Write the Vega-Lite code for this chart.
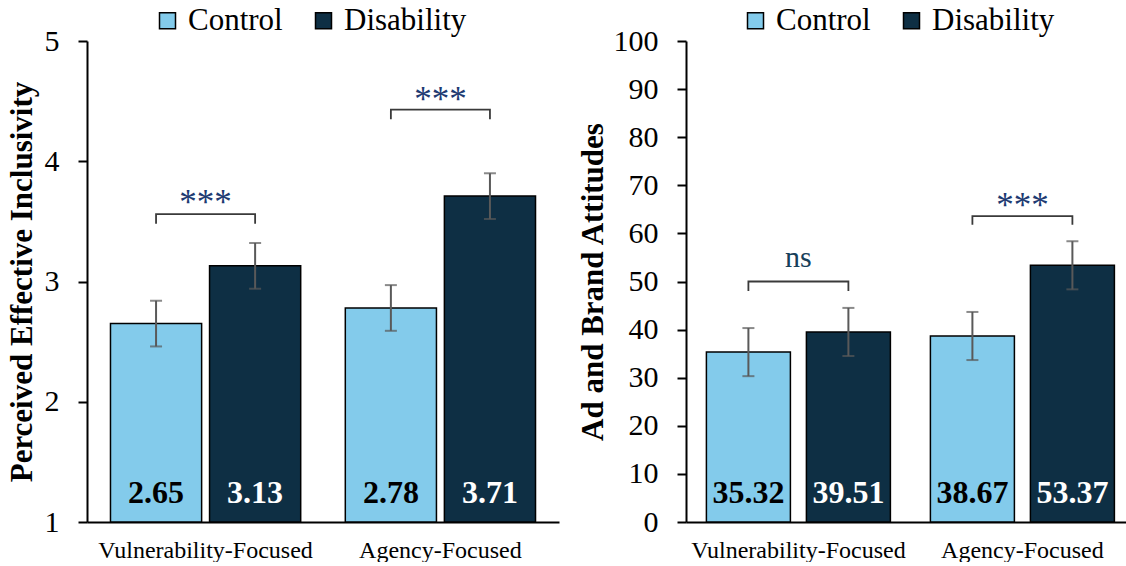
{
  "$schema": "https://vega.github.io/schema/vega-lite/v6.json",
  "background": "white",
  "padding": {"left": 6, "top": 5, "right": 0, "bottom": 0},
  "spacing": 18,
  "config": {
    "font": "Liberation Serif",
    "view": {"stroke": null},
    "axis": {
      "labelFont": "Liberation Serif",
      "titleFont": "Liberation Serif",
      "labelColor": "black",
      "titleColor": "black",
      "domainColor": "black",
      "tickColor": "black",
      "domainWidth": 2,
      "tickWidth": 2,
      "grid": false
    },
    "legend": {"labelFont": "Liberation Serif"}
  },
  "datasets": {
    "inclusivity": [
      {"ad_type": "Vulnerability-Focused", "condition": "Control", "mean": 2.65, "lo": 2.46, "hi": 2.84},
      {"ad_type": "Vulnerability-Focused", "condition": "Disability", "mean": 3.13, "lo": 2.94, "hi": 3.32},
      {"ad_type": "Agency-Focused", "condition": "Control", "mean": 2.78, "lo": 2.59, "hi": 2.97},
      {"ad_type": "Agency-Focused", "condition": "Disability", "mean": 3.71, "lo": 3.52, "hi": 3.90}
    ],
    "inclusivity_brackets": [
      {"ad_type": "Vulnerability-Focused", "condition": "Control", "y": 3.48, "step": 1},
      {"ad_type": "Vulnerability-Focused", "condition": "Control", "y": 3.56, "step": 2},
      {"ad_type": "Vulnerability-Focused", "condition": "Disability", "y": 3.56, "step": 3},
      {"ad_type": "Vulnerability-Focused", "condition": "Disability", "y": 3.48, "step": 4},
      {"ad_type": "Agency-Focused", "condition": "Control", "y": 4.35, "step": 1},
      {"ad_type": "Agency-Focused", "condition": "Control", "y": 4.43, "step": 2},
      {"ad_type": "Agency-Focused", "condition": "Disability", "y": 4.43, "step": 3},
      {"ad_type": "Agency-Focused", "condition": "Disability", "y": 4.35, "step": 4}
    ],
    "inclusivity_sig": [
      {"ad_type": "Vulnerability-Focused", "label": "***", "y": 3.70},
      {"ad_type": "Agency-Focused", "label": "***", "y": 4.56}
    ],
    "attitudes": [
      {"ad_type": "Vulnerability-Focused", "condition": "Control", "mean": 35.32, "lo": 30.32, "hi": 40.32},
      {"ad_type": "Vulnerability-Focused", "condition": "Disability", "mean": 39.51, "lo": 34.51, "hi": 44.51},
      {"ad_type": "Agency-Focused", "condition": "Control", "mean": 38.67, "lo": 33.67, "hi": 43.67},
      {"ad_type": "Agency-Focused", "condition": "Disability", "mean": 53.37, "lo": 48.37, "hi": 58.37}
    ],
    "attitudes_brackets": [
      {"ad_type": "Vulnerability-Focused", "condition": "Control", "y": 48.0, "step": 1},
      {"ad_type": "Vulnerability-Focused", "condition": "Control", "y": 50.0, "step": 2},
      {"ad_type": "Vulnerability-Focused", "condition": "Disability", "y": 50.0, "step": 3},
      {"ad_type": "Vulnerability-Focused", "condition": "Disability", "y": 48.0, "step": 4},
      {"ad_type": "Agency-Focused", "condition": "Control", "y": 61.8, "step": 1},
      {"ad_type": "Agency-Focused", "condition": "Control", "y": 63.6, "step": 2},
      {"ad_type": "Agency-Focused", "condition": "Disability", "y": 63.6, "step": 3},
      {"ad_type": "Agency-Focused", "condition": "Disability", "y": 61.8, "step": 4}
    ],
    "attitudes_ns": [
      {"ad_type": "Vulnerability-Focused", "label": "ns", "y": 54.8}
    ],
    "attitudes_sig": [
      {"ad_type": "Agency-Focused", "label": "***", "y": 67.0}
    ]
  },
  "resolve": {
    "scale": {"x": "independent", "y": "independent", "color": "independent", "xOffset": "independent"},
    "legend": {"color": "independent"},
    "axis": {"x": "independent", "y": "independent"}
  },
  "hconcat": [
    {
      "width": 472,
      "height": 481,
      "layer": [
        {
          "data": {"name": "inclusivity"},
          "mark": {"type": "bar", "stroke": "black", "strokeWidth": 1.5},
          "encoding": {
            "x": {
              "field": "ad_type", "type": "nominal",
              "sort": ["Vulnerability-Focused", "Agency-Focused"],
              "scale": {"paddingInner": 0.19, "paddingOuter": 0.1},
              "axis": {"title": null, "ticks": false, "labelAngle": 0, "labelFontSize": 24, "labelPadding": 16, "labelLimit": 0}
            },
            "xOffset": {
              "field": "condition", "type": "nominal",
              "sort": ["Control", "Disability"],
              "scale": {"paddingInner": 0.08, "paddingOuter": 0}
            },
            "y": {
              "field": "mean", "type": "quantitative",
              "scale": {"domain": [1, 5], "nice": false, "zero": false},
              "axis": {
                "title": "Perceived Effective Inclusivity",
                "values": [1, 2, 3, 4, 5], "format": "d",
                "labelFontSize": 30, "tickSize": 9, "labelPadding": 19,
                "titleFontSize": 31, "titleFontWeight": "bold", "titlePadding": 6
              }
            },
            "y2": {"datum": 1},
            "color": {
              "field": "condition", "type": "nominal",
              "sort": ["Control", "Disability"],
              "scale": {"domain": ["Control", "Disability"], "range": ["#83CBEB", "#0E2F44"]},
              "legend": {
                "title": null, "orient": "none", "direction": "horizontal",
                "legendX": 65, "legendY": -36,
                "symbolType": "square", "symbolSize": 256,
                "symbolStrokeColor": "black", "symbolStrokeWidth": 1.5,
                "labelFontSize": 31, "labelColor": "black", "labelOffset": 5,
                "columnPadding": 25, "padding": 0
              }
            }
          }
        },
        {
          "data": {"name": "inclusivity"},
          "mark": {"type": "rule", "color": "#595959", "strokeWidth": 2},
          "encoding": {
            "x": {"field": "ad_type", "type": "nominal", "sort": ["Vulnerability-Focused", "Agency-Focused"]},
            "xOffset": {"field": "condition", "type": "nominal", "sort": ["Control", "Disability"]},
            "y": {"field": "lo", "type": "quantitative"},
            "y2": {"field": "hi"}
          }
        },
        {
          "data": {"name": "inclusivity"},
          "mark": {"type": "tick", "color": "#595959", "thickness": 2, "size": 12},
          "encoding": {
            "x": {"field": "ad_type", "type": "nominal", "sort": ["Vulnerability-Focused", "Agency-Focused"]},
            "xOffset": {"field": "condition", "type": "nominal", "sort": ["Control", "Disability"]},
            "y": {"field": "lo", "type": "quantitative"}
          }
        },
        {
          "data": {"name": "inclusivity"},
          "mark": {"type": "tick", "color": "#595959", "thickness": 2, "size": 12},
          "encoding": {
            "x": {"field": "ad_type", "type": "nominal", "sort": ["Vulnerability-Focused", "Agency-Focused"]},
            "xOffset": {"field": "condition", "type": "nominal", "sort": ["Control", "Disability"]},
            "y": {"field": "hi", "type": "quantitative"}
          }
        },
        {
          "data": {"name": "inclusivity"},
          "mark": {"type": "text", "font": "Liberation Serif", "fontSize": 32, "fontWeight": "bold", "baseline": "alphabetic", "dy": -19},
          "encoding": {
            "x": {"field": "ad_type", "type": "nominal", "sort": ["Vulnerability-Focused", "Agency-Focused"]},
            "xOffset": {"field": "condition", "type": "nominal", "sort": ["Control", "Disability"]},
            "y": {"datum": 1, "type": "quantitative"},
            "text": {"field": "mean", "type": "quantitative", "format": ".2f"},
            "color": {"condition": {"test": "datum.condition === 'Disability'", "value": "white"}, "value": "black"}
          }
        },
        {
          "data": {"name": "inclusivity_brackets"},
          "mark": {"type": "line", "color": "#3a3a3a", "strokeWidth": 1.8},
          "encoding": {
            "x": {"field": "ad_type", "type": "nominal", "sort": ["Vulnerability-Focused", "Agency-Focused"]},
            "xOffset": {"field": "condition", "type": "nominal", "sort": ["Control", "Disability"]},
            "y": {"field": "y", "type": "quantitative"},
            "detail": {"field": "ad_type", "type": "nominal"},
            "order": {"field": "step", "type": "quantitative"}
          }
        },
        {
          "data": {"name": "inclusivity_sig"},
          "mark": {"type": "text", "font": "Liberation Serif", "fontSize": 35, "color": "#203A72", "baseline": "middle", "dy": 6},
          "encoding": {
            "x": {"field": "ad_type", "type": "nominal", "sort": ["Vulnerability-Focused", "Agency-Focused"]},
            "y": {"field": "y", "type": "quantitative"},
            "text": {"field": "label"}
          }
        }
      ]
    },
    {
      "width": 442,
      "height": 481,
      "layer": [
        {
          "data": {"name": "attitudes"},
          "mark": {"type": "bar", "stroke": "black", "strokeWidth": 1.5},
          "encoding": {
            "x": {
              "field": "ad_type", "type": "nominal",
              "sort": ["Vulnerability-Focused", "Agency-Focused"],
              "scale": {"paddingInner": 0.1786, "paddingOuter": 0.0759, "align": 0.6},
              "axis": {"title": null, "ticks": false, "labelAngle": 0, "labelFontSize": 24, "labelPadding": 16, "labelLimit": 0}
            },
            "xOffset": {
              "field": "condition", "type": "nominal",
              "sort": ["Control", "Disability"],
              "scale": {"paddingInner": 0.16, "paddingOuter": 0}
            },
            "y": {
              "field": "mean", "type": "quantitative",
              "scale": {"domain": [0, 100], "nice": false},
              "axis": {
                "title": "Ad and Brand Attitudes",
                "values": [0, 10, 20, 30, 40, 50, 60, 70, 80, 90, 100], "format": "d",
                "labelFontSize": 30, "tickSize": 9, "labelPadding": 19,
                "titleFontSize": 31, "titleFontWeight": "bold", "titlePadding": 4
              }
            },
            "y2": {"datum": 0},
            "color": {
              "field": "condition", "type": "nominal",
              "sort": ["Control", "Disability"],
              "scale": {"domain": ["Control", "Disability"], "range": ["#83CBEB", "#0E2F44"]},
              "legend": {
                "title": null, "orient": "none", "direction": "horizontal",
                "legendX": 54, "legendY": -36,
                "symbolType": "square", "symbolSize": 256,
                "symbolStrokeColor": "black", "symbolStrokeWidth": 1.5,
                "labelFontSize": 31, "labelColor": "black", "labelOffset": 5,
                "columnPadding": 25, "padding": 0
              }
            }
          }
        },
        {
          "data": {"name": "attitudes"},
          "mark": {"type": "rule", "color": "#595959", "strokeWidth": 2},
          "encoding": {
            "x": {"field": "ad_type", "type": "nominal", "sort": ["Vulnerability-Focused", "Agency-Focused"]},
            "xOffset": {"field": "condition", "type": "nominal", "sort": ["Control", "Disability"]},
            "y": {"field": "lo", "type": "quantitative"},
            "y2": {"field": "hi"}
          }
        },
        {
          "data": {"name": "attitudes"},
          "mark": {"type": "tick", "color": "#595959", "thickness": 2, "size": 12},
          "encoding": {
            "x": {"field": "ad_type", "type": "nominal", "sort": ["Vulnerability-Focused", "Agency-Focused"]},
            "xOffset": {"field": "condition", "type": "nominal", "sort": ["Control", "Disability"]},
            "y": {"field": "lo", "type": "quantitative"}
          }
        },
        {
          "data": {"name": "attitudes"},
          "mark": {"type": "tick", "color": "#595959", "thickness": 2, "size": 12},
          "encoding": {
            "x": {"field": "ad_type", "type": "nominal", "sort": ["Vulnerability-Focused", "Agency-Focused"]},
            "xOffset": {"field": "condition", "type": "nominal", "sort": ["Control", "Disability"]},
            "y": {"field": "hi", "type": "quantitative"}
          }
        },
        {
          "data": {"name": "attitudes"},
          "mark": {"type": "text", "font": "Liberation Serif", "fontSize": 32, "fontWeight": "bold", "baseline": "alphabetic", "dy": -19},
          "encoding": {
            "x": {"field": "ad_type", "type": "nominal", "sort": ["Vulnerability-Focused", "Agency-Focused"]},
            "xOffset": {"field": "condition", "type": "nominal", "sort": ["Control", "Disability"]},
            "y": {"datum": 0, "type": "quantitative"},
            "text": {"field": "mean", "type": "quantitative", "format": ".2f"},
            "color": {"condition": {"test": "datum.condition === 'Disability'", "value": "white"}, "value": "black"}
          }
        },
        {
          "data": {"name": "attitudes_brackets"},
          "mark": {"type": "line", "color": "#3a3a3a", "strokeWidth": 1.8},
          "encoding": {
            "x": {"field": "ad_type", "type": "nominal", "sort": ["Vulnerability-Focused", "Agency-Focused"]},
            "xOffset": {"field": "condition", "type": "nominal", "sort": ["Control", "Disability"]},
            "y": {"field": "y", "type": "quantitative"},
            "detail": {"field": "ad_type", "type": "nominal"},
            "order": {"field": "step", "type": "quantitative"}
          }
        },
        {
          "data": {"name": "attitudes_ns"},
          "mark": {"type": "text", "font": "Liberation Serif", "fontSize": 30, "color": "#17405A", "baseline": "middle"},
          "encoding": {
            "x": {"field": "ad_type", "type": "nominal", "sort": ["Vulnerability-Focused", "Agency-Focused"]},
            "y": {"field": "y", "type": "quantitative"},
            "text": {"field": "label"}
          }
        },
        {
          "data": {"name": "attitudes_sig"},
          "mark": {"type": "text", "font": "Liberation Serif", "fontSize": 35, "color": "#203A72", "baseline": "middle", "dy": 6},
          "encoding": {
            "x": {"field": "ad_type", "type": "nominal", "sort": ["Vulnerability-Focused", "Agency-Focused"]},
            "y": {"field": "y", "type": "quantitative"},
            "text": {"field": "label"}
          }
        }
      ]
    }
  ]
}
